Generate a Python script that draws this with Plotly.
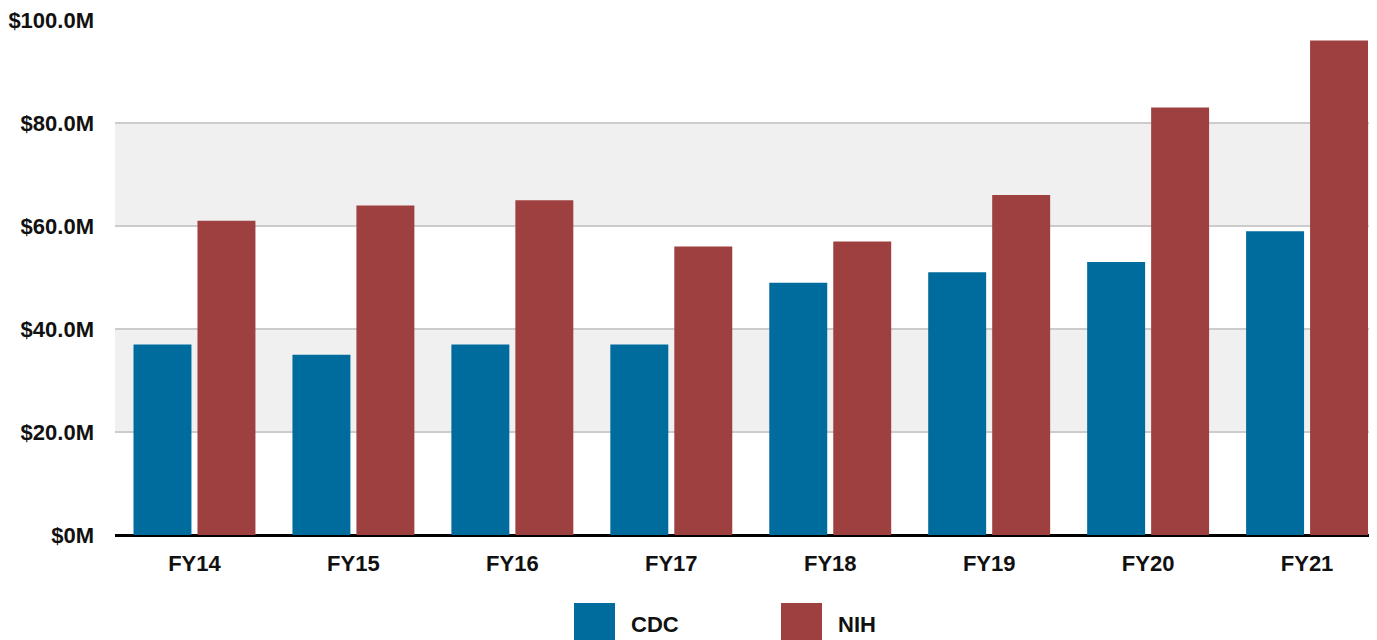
import plotly.graph_objects as go

years = ["FY14", "FY15", "FY16", "FY17", "FY18", "FY19", "FY20", "FY21"]
cdc = [37, 35, 37, 37, 49, 51, 53, 59]
nih = [61, 64, 65, 56, 57, 66, 83, 96]
series_names = ["CDC", "NIH"]
series_colors = ["#006B9D", "#9E4040"]
y_ticks = [0, 20, 40, 60, 80, 100]
y_tick_labels = ["$0M", "$20.0M", "$40.0M", "$60.0M", "$80.0M", "$100.0M"]

FONT = "Liberation Sans Narrow, Arial Narrow, Liberation Sans, Arial, sans-serif"
FS = 22

fig = go.Figure()
for name, vals, col in zip(series_names, [cdc, nih], series_colors):
    fig.add_trace(go.Bar(x=years, y=vals, name=name, marker=dict(color=col, line=dict(width=0)),
                         showlegend=False))

# alternating bands
shapes = []
for lo, hi in [(20, 40), (60, 80)]:
    shapes.append(dict(type="rect", xref="paper", yref="y", x0=0, x1=1, y0=lo, y1=hi,
                       fillcolor="#f0f0f0", line=dict(width=0), layer="below"))

# manual legend (large squares); page coords converted to paper coords
annotations = []
leg_x = [574, 781]
PL, PW, PB, PH = 115, 1262, 535, 515
for i, (name, col) in enumerate(zip(series_names, series_colors)):
    x0 = leg_x[i]
    shapes.append(dict(type="rect", xref="paper", yref="paper",
                       x0=(x0 - PL) / PW, x1=(x0 + 41 - PL) / PW,
                       y0=(PB - 644) / PH, y1=(PB - 603) / PH,
                       fillcolor=col, line=dict(width=0)))
    annotations.append(dict(text="<b>%s</b>" % name, xref="paper", yref="paper",
                            x=(x0 + 55 - PL) / PW, y=(PB - 624) / PH,
                            xanchor="left", yanchor="middle", showarrow=False,
                            font=dict(family=FONT, size=FS, color="#111111")))

fig.update_layout(
    width=1369, height=632,
    margin=dict(l=107, r=0, t=12, b=105),
    plot_bgcolor="white", paper_bgcolor="white",
    barmode="group", bargap=0.195, bargroupgap=0.094,
    font=dict(family=FONT, size=FS, color="#111111"),
    shapes=shapes, annotations=annotations,
    showlegend=False,
)
fig.update_xaxes(range=[-0.5, 7.44], showgrid=False, showline=False, zeroline=False,
                 tickfont=dict(family=FONT, size=FS, color="#111111", weight="bold"),
                 ticks="", ticklabelstandoff=13)
fig.update_yaxes(range=[0, 100], tickvals=y_ticks, ticktext=y_tick_labels,
                 showgrid=True, gridcolor="#cccccc", gridwidth=1.5,
                 zeroline=True, zerolinecolor="#000000", zerolinewidth=3,
                 tickfont=dict(family=FONT, size=FS, color="#111111", weight="bold"),
                 ticks="", ticklabelstandoff=20, showline=False,
                 ticklabeloverflow="allow")

fig.write_html("out.html")
